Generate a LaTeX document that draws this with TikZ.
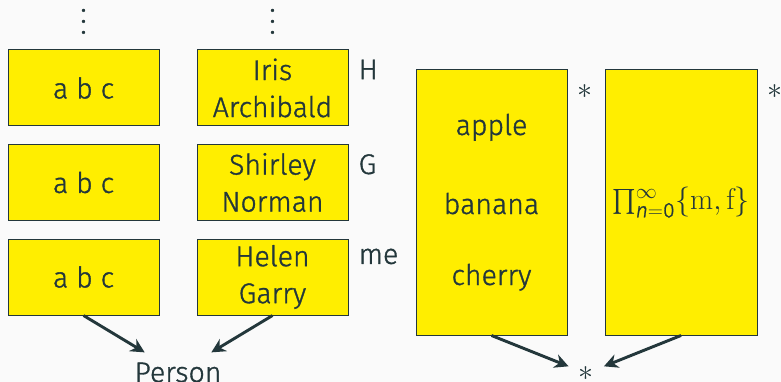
\RequirePackage{fix-cm}
\documentclass[tikz,border=0pt]{standalone}
\usepackage{fontspec}
\usepackage{amsmath}
\setsansfont[FakeBold=1.2, ItalicFont={Fira Sans Light Italic}, ItalicFeatures={FakeBold=1.2}]{Fira Sans Light}
\renewcommand{\familydefault}{\sfdefault}
\usetikzlibrary{arrows.meta}
\definecolor{ink}{HTML}{23373B}
\definecolor{boxfill}{HTML}{FFEE00}
\definecolor{paper}{HTML}{FAFAFA}
\begin{document}
\begin{tikzpicture}[x=1pt,y=-1pt,
  every node/.style={text=ink, font=\fontsize{28.5}{37}\selectfont, inner sep=10pt},
  card/.style={draw=ink, fill=boxfill, line width=1pt, minimum width=151pt,
    minimum height=76pt, inner sep=0pt, align=center},
  tall/.style={draw=ink, fill=boxfill, line width=1pt, minimum height=265pt, inner sep=0pt},
  tag/.style={anchor=north west},
  ellip/.style={font=\fontsize{11}{13}\selectfont, scale=2.75, anchor=base, inner sep=0pt},
  link/.style={draw=ink, line width=2.9pt, -{Stealth[length=14pt,width=14pt,inset=4.5pt]}}
]
\fill[paper] (0,0) rectangle (781,382);
\useasboundingbox (0,0) rectangle (781,382);

% continuation dots above the two columns
\node[ellip] (dotsl) at (83.5,33.5) {$\vdots$};
\node[ellip] (dotsm) at (272.5,33.5) {$\vdots$};

% left column
\node[card] (l1) at (83.5,88) {a b c};
\node[card] (l2) at (83.5,182.5) {a b c};
\node[card] (l3) at (83.5,277) {a b c};

% name column with tags
\node[card] (m1) at (272.5,88) {Iris\\Archibald};
\node[card] (m2) at (272.5,182.5) {Shirley\\Norman};
\node[card] (m3) at (272.5,277) {Helen\\Garry};
\node[tag] (th) at (m1.north east) {H};
\node[tag] (tg) at (m2.north east) {G};
\node[tag] (tm) at (m3.north east) {me};

\node (person) at (178,372.5) {Person};
\draw[link] (l3.south) -- (person);
\draw[link] (m3.south) -- (person);

% right pair of tall boxes
\node[tall, minimum width=151pt] (fruits) at (491.5,202.5) {};
\node[anchor=base] (apple) at (491.5,135) {apple};
\node[anchor=base] (banana) at (491.5,214) {banana};
\node[anchor=base] (cherry) at (491.5,285) {cherry};
\node[tall, minimum width=152pt] (prodbox) at (681,202.5) {};
\node[font=\fontsize{30}{37}\selectfont] (prod) at (681,202.5)
  {$\prod_{\text{\itshape n}=\text{0}}^{\infty}\{\mathrm{m},\mathrm{f}\}$};
\node[tag, font=\fontsize{30}{37}\selectfont] (sf) at ([yshift=-5pt]fruits.north east) {$*$};
\node[tag, font=\fontsize{30}{37}\selectfont] (sp) at ([yshift=-5pt]prodbox.north east) {$*$};

\node[font=\fontsize{30}{37}\selectfont] (star) at (586.25,373.4) {$*$};
\draw[link] (fruits.south) -- (star);
\draw[link] (prodbox.south) -- (star);
\end{tikzpicture}
\end{document}
